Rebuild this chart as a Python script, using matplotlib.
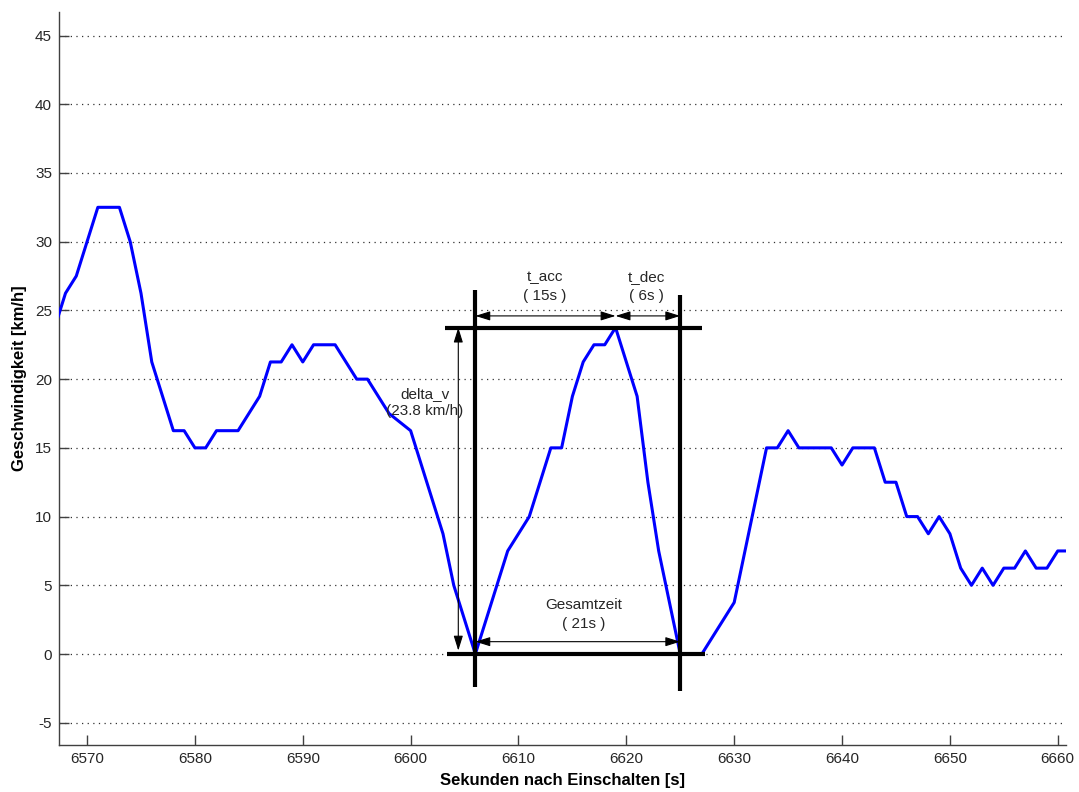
import matplotlib
matplotlib.use("Agg")
import matplotlib.pyplot as plt

plt.rcParams['font.family'] = ['Liberation Sans', 'DejaVu Sans']
plt.rcParams['axes.unicode_minus'] = False

# Speed trace (seconds after power-on, km/h)
time_s = [6567, 6568, 6569, 6571, 6573, 6574, 6575, 6576, 6578, 6579,
          6580, 6581, 6582, 6584, 6586, 6587, 6588, 6589, 6590, 6591,
          6593, 6595, 6596, 6598, 6600, 6603, 6604, 6606, 6609, 6611,
          6613, 6614, 6615, 6616, 6617, 6618, 6619, 6621, 6622, 6623,
          6625, 6627, 6630, 6633, 6634, 6635, 6636, 6639, 6640, 6641,
          6643, 6644, 6645, 6646, 6647, 6648, 6649, 6650, 6651, 6652,
          6653, 6654, 6655, 6656, 6657, 6658, 6659, 6660, 6661]
speed_kmh = [23.75, 26.25, 27.5, 32.5, 32.5, 30.0, 26.25, 21.25, 16.25, 16.25,
             15.0, 15.0, 16.25, 16.25, 18.75, 21.25, 21.25, 22.5, 21.25, 22.5,
             22.5, 20.0, 20.0, 17.5, 16.25, 8.75, 5.0, 0.0, 7.5, 10.0,
             15.0, 15.0, 18.75, 21.25, 22.5, 22.5, 23.75, 18.75, 12.5, 7.5,
             0.0, 0.0, 3.75, 15.0, 15.0, 16.25, 15.0, 15.0, 13.75, 15.0,
             15.0, 12.5, 12.5, 10.0, 10.0, 8.75, 10.0, 8.75, 6.25, 5.0,
             6.25, 5.0, 6.25, 6.25, 7.5, 6.25, 6.25, 7.5, 7.5]

x_ticks = [6570, 6580, 6590, 6600, 6610, 6620, 6630, 6640, 6650, 6660]
y_ticks = [-5, 0, 5, 10, 15, 20, 25, 30, 35, 40, 45]

# Acceleration event markers
t_start = 6606
t_peak = 6619
t_end = 6625
v_low = 0.0
v_peak = 23.75
t_acc_label = "( 15s )"
t_dec_label = "( 6s )"
total_label = "( 21s )"
delta_v_label = "(23.8 km/h)"

fig = plt.figure(figsize=(10.79, 7.92), dpi=100)
ax = fig.add_axes([0.0547, 0.0593, 0.9333, 0.9259])

ax.plot(time_s, speed_kmh, color=(0, 0, 1), lw=2.2, zorder=3)

ax.set_xlim(6567.4, 6660.77)
ax.set_ylim(-6.62, 46.73)
ax.set_xticks(x_ticks)
ax.set_yticks(y_ticks)
ax.grid(axis='y', linestyle=(0, (1, 3.5)), color='#333333', lw=0.9)
ax.set_axisbelow(True)

for side in ('top', 'right'):
    ax.spines[side].set_visible(False)
for side in ('left', 'bottom'):
    ax.spines[side].set_color('#404040')
    ax.spines[side].set_linewidth(1.0)
ax.tick_params(direction='in', length=7, width=1, color='#404040',
               labelsize=11, labelcolor='#262626', pad=5)

ax.set_xlabel('Sekunden nach Einschalten [s]', fontsize=12, fontweight='bold',
              labelpad=5)
ax.set_ylabel('Geschwindigkeit [km/h]', fontsize=12, fontweight='bold',
              labelpad=6)

# thick frame around the event
thick = dict(color='black', lw=3.0, solid_capstyle='butt', zorder=4)
ax.plot([6603.2, 6627.0], [v_peak, v_peak], **thick)
ax.plot([6603.35, 6627.3], [v_low, v_low], **thick)
ax.plot([t_start, t_start], [-2.4, 26.5], **thick)
ax.plot([t_end, t_end], [-2.7, 26.1], **thick)

arrow = dict(arrowstyle='<|-|>,head_length=0.9,head_width=0.28',
             color='black', lw=0.8, shrinkA=0, shrinkB=0)
ax.annotate('', xy=(t_start, 24.6), xytext=(t_peak, 24.6),
            arrowprops=arrow, zorder=5)
ax.annotate('', xy=(t_peak, 24.6), xytext=(t_end, 24.6),
            arrowprops=arrow, zorder=5)
ax.annotate('', xy=(t_start, 0.9), xytext=(t_end, 0.9),
            arrowprops=arrow, zorder=5)
ax.annotate('', xy=(6604.42, 0.25), xytext=(6604.42, v_peak),
            arrowprops=arrow, zorder=5)

txt = dict(ha='center', va='center', fontsize=11, color='#262626', zorder=6)
ax.text(6612.46, 27.46, 't_acc', **txt)
ax.text(6612.46, 26.05, t_acc_label, **txt)
ax.text(6621.9, 27.46, 't_dec', **txt)
ax.text(6621.9, 26.05, t_dec_label, **txt)
ax.text(6616.0, 3.56, 'Gesamtzeit', **txt)
ax.text(6616.0, 2.2, total_label, **txt)
ax.text(6601.3, 18.95, 'delta_v', **txt)
ax.text(6601.3, 17.7, delta_v_label, **txt)

fig.savefig('out.png', dpi=100)
